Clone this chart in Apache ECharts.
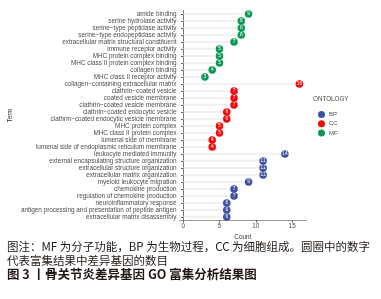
<!DOCTYPE html>
<html><head><meta charset="utf-8">
<script src="https://cdn.jsdelivr.net/npm/echarts@6/dist/echarts.min.js"></script>
<style>html,body{margin:0;padding:0;background:#fff}#c{width:381px;height:299px}</style>
</head><body><div id="c"></div>
<script>
// Terms listed top to bottom
const terms = [
 "amide binding","serine hydrolase activity","serine\u2212type peptidase activity","serine\u2212type endopeptidase activity",
 "extracellular matrix structural constituent","immune receptor activity","MHC protein complex binding",
 "MHC class II protein complex binding","collagen binding","MHC class II receptor activity",
 "collagen\u2212containing extracellular matrix","clathrin\u2212coated vesicle","coated vesicle membrane",
 "clathrin\u2212coated vesicle membrane","clathrin\u2212coated endocytic vesicle","clathrin\u2212coated endocytic vesicle membrane",
 "MHC protein complex","MHC class II protein complex","lumenal side of membrane",
 "lumenal side of endoplasmic reticulum membrane","leukocyte mediated immunity",
 "external encapsulating structure organization","extracellular structure organization",
 "extracellular matrix organization","myeloid leukocyte migration","chemokine production",
 "regulation of chemokine production","neuroinflammatory response",
 "antigen processing and presentation of peptide antigen","extracellular matrix disassembly"
];
const counts = [9,8,8,8,7,5,5,5,4,3, 16,7,7,7,6,6,5,5,4,4, 14,11,11,11,9,7,7,6,6,6];
const ontology = ["MF","MF","MF","MF","MF","MF","MF","MF","MF","MF",
 "CC","CC","CC","CC","CC","CC","CC","CC","CC","CC",
 "BP","BP","BP","BP","BP","BP","BP","BP","BP","BP"];
const groups = ["BP","CC","MF"];
const xTicks = [0,5,10,15];
const captionLines = ["图注：MF 为分子功能，BP 为生物过程，CC 为细胞组成。圆圈中的数字","代表富集结果中差异基因的数目","图 3 丨骨关节炎差异基因 GO 富集分析结果图"];

const colors = {BP:"#3F51A2", CC:"#F50A0A", MF:"#0C9A55"};
const chart = echarts.init(document.getElementById('c'), null, {renderer:'canvas'});
const scatterSeries = groups.map(g => ({
  name: g, type: 'scatter', symbolSize: 7.5, z: 3,
  itemStyle: {color: colors[g], opacity: 1},
  label: {show: true, position: 'inside', color: '#fff', fontSize: 4.8, fontFamily: 'Liberation Sans', formatter: p => p.value[0]},
  data: terms.map((t,i) => ontology[i] === g ? [counts[i], t] : null).filter(d => d)
}));
chart.setOption({
  animation: false,
  textStyle: {fontFamily: 'Liberation Sans'},
  grid: {left: 179.5, top: 10.5, width: 126.5, height: 210},
  xAxis: {
    type: 'value', min: -0.5, max: 16.9,
    name: 'Count', nameLocation: 'middle', nameGap: 11,
    nameTextStyle: {fontSize: 6.3, color: '#333'},
    splitLine: {show: false},
    axisLine: {show: true, lineStyle: {color: '#999', width: 1}},
    axisTick: {show: true, length: 2, lineStyle: {color: '#555'}, customValues: xTicks},
    axisLabel: {fontSize: 6.3, color: '#4d4d4d', margin: 3, customValues: xTicks}
  },
  yAxis: {
    type: 'category', data: terms, inverse: true,
    name: 'Term', nameLocation: 'middle', nameGap: 166, nameRotate: 90,
    nameTextStyle: {fontSize: 6.3, color: '#333'},
    axisLine: {show: true, lineStyle: {color: '#777', width: 1}},
    axisTick: {show: true, length: 2, alignWithLabel: true, interval: 0, lineStyle: {color: '#555'}},
    axisLabel: {fontSize: 6.4, color: '#4d4d4d', margin: 3, interval: 0}
  },
  legend: {
    data: groups, orient: 'vertical', left: 313, top: 106,
    icon: 'circle', itemWidth: 7, itemHeight: 7, itemGap: 2.3,
    textStyle: {fontSize: 6, color: '#4d4d4d', padding: [0,0,0,-1]}
  },
  graphic: [
    {type: 'text', left: 313, top: 96, style: {text: 'ONTOLOGY', fontSize: 6.3, fill: '#4d4d4d', fontFamily: 'Liberation Sans'}},
    {type: 'text', left: 7, top: 241, style: {text: captionLines[0], fontSize: 11.5, fill: '#231815', fontFamily: 'Noto Sans CJK SC'}},
    {type: 'text', left: 7, top: 255, style: {text: captionLines[1], fontSize: 11.5, fill: '#231815', fontFamily: 'Noto Sans CJK SC'}},
    {type: 'text', left: 7, top: 268, style: {text: captionLines[2], fontSize: 12.5, fontWeight: 'bold', fill: '#231815', fontFamily: 'Noto Sans CJK SC'}}
  ],
  series: [
    {type: 'bar', data: counts, barWidth: 1, silent: true, z: 1,
     itemStyle: {color: '#e3e3e3'}}
  ].concat(scatterSeries)
});
</script></body></html>
